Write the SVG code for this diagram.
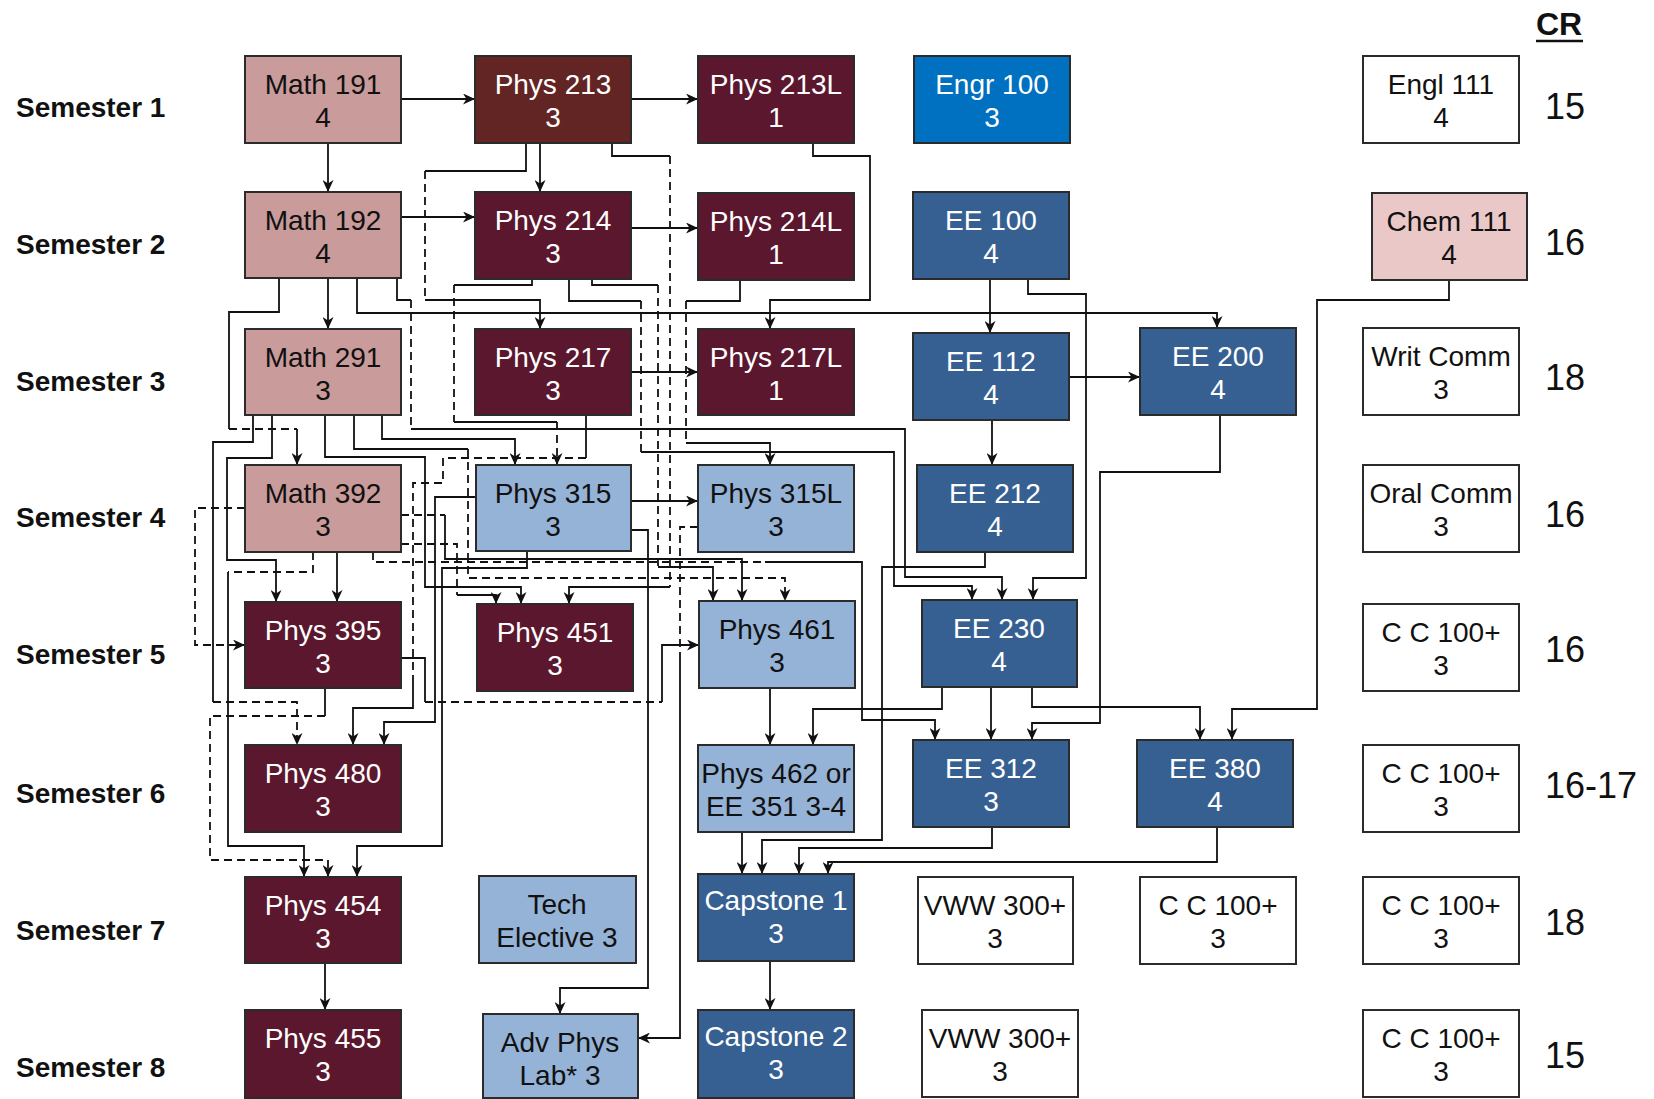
<svg xmlns="http://www.w3.org/2000/svg" width="1654" height="1099" viewBox="0 0 1654 1099">
<style>
.bx{stroke:#2b2b2b;stroke-width:2}
.ma{fill:#C99B9B}.br{fill:#632523}.mr{fill:#5B172D}.eg{fill:#0070C0}.ee{fill:#376092}.lb{fill:#95B3D7}.ch{fill:#EBC8C8}.wh{fill:#FFFFFF}
text{font-family:"Liberation Sans",Arial,sans-serif}
.t{font-size:28px;text-anchor:middle}
.tw{fill:#FFFFFF}.tk{fill:#111111}
.sem{font-size:28px;font-weight:bold;fill:#111}
.cr{font-size:36px;fill:#111}
.s{fill:none;stroke:#111;stroke-width:1.8}
.d{fill:none;stroke:#111;stroke-width:1.8;stroke-dasharray:8 5}
</style>
<defs>
<marker id="a" viewBox="0 0 12 11" refX="12" refY="5.5" markerWidth="12" markerHeight="11" markerUnits="userSpaceOnUse" orient="auto"><path d="M0,0 L12,5.5 L0,11 L3.5,5.5 z" fill="#111"/></marker>
</defs>
<rect x="0" y="0" width="1654" height="1099" fill="#FFFFFF"/>

<g id="labels">
<text class="sem" x="16" y="117">Semester 1</text>
<text class="sem" x="16" y="254">Semester 2</text>
<text class="sem" x="16" y="391">Semester 3</text>
<text class="sem" x="16" y="527">Semester 4</text>
<text class="sem" x="16" y="664">Semester 5</text>
<text class="sem" x="16" y="803">Semester 6</text>
<text class="sem" x="16" y="940">Semester 7</text>
<text class="sem" x="16" y="1077">Semester 8</text>
<text x="1536" y="35" style="font-size:32px;font-weight:bold;fill:#111">CR</text>
<line x1="1536" y1="41" x2="1583" y2="41" stroke="#111" stroke-width="2.5"/>
<text class="cr" x="1545" y="119">15</text>
<text class="cr" x="1545" y="255">16</text>
<text class="cr" x="1545" y="390">18</text>
<text class="cr" x="1545" y="527">16</text>
<text class="cr" x="1545" y="662">16</text>
<text class="cr" x="1545" y="798">16-17</text>
<text class="cr" x="1545" y="935">18</text>
<text class="cr" x="1545" y="1068">15</text>
</g>

<g id="connectors">
<path class="s" d="M401,99 H475" marker-end="url(#a)"/>
<path class="s" d="M631,99 H698" marker-end="url(#a)"/>
<path class="s" d="M328,143 V192" marker-end="url(#a)"/>
<path class="s" d="M540,143 V192" marker-end="url(#a)"/>
<path class="s" d="M526,143 V171 H425"/>
<path class="d" d="M425,171 V300"/>
<path class="s" d="M425,300 H540 V329" marker-end="url(#a)"/>
<path class="s" d="M612,143 V156 H670"/>
<path class="d" d="M670,156 V587"/>
<path class="s" d="M670,587 H569 V604" marker-end="url(#a)"/>
<path class="s" d="M401,217 H475" marker-end="url(#a)"/>
<path class="s" d="M631,228 H698" marker-end="url(#a)"/>
<path class="s" d="M328,278 V329" marker-end="url(#a)"/>
<path class="s" d="M357,278 V313 H1217 V328" marker-end="url(#a)"/>
<path class="s" d="M279,278 V312 H229 V429"/>
<path class="d" d="M229,429 H297"/>
<path class="s" d="M297,429 V465" marker-end="url(#a)"/>
<path class="s" d="M397,278 V300 H411"/>
<path class="d" d="M411,300 V429"/>
<path class="s" d="M411,429 H905 V577 H1002 V600" marker-end="url(#a)"/>
<path class="s" d="M532,279 V285 H454"/>
<path class="d" d="M454,285 V422"/>
<path class="s" d="M454,422 H557"/>
<path class="d" d="M557,422 V465" marker-end="url(#a)"/>
<path class="s" d="M569,279 V301 H641"/>
<path class="d" d="M641,301 V452"/>
<path class="s" d="M641,452 H894 V586 H972 V600" marker-end="url(#a)"/>
<path class="s" d="M592,279 V285 H658"/>
<path class="d" d="M658,285 V567"/>
<path class="s" d="M658,567 H713 V601" marker-end="url(#a)"/>
<path class="s" d="M740,280 V301 H686"/>
<path class="d" d="M686,301 V443"/>
<path class="s" d="M686,443 H770 V465" marker-end="url(#a)"/>
<path class="s" d="M813,143 V156 H870 V300 H770 V329" marker-end="url(#a)"/>
<path class="s" d="M631,372 H698" marker-end="url(#a)"/>
<path class="s" d="M990,279 V333" marker-end="url(#a)"/>
<path class="s" d="M1069,377 H1140" marker-end="url(#a)"/>
<path class="s" d="M1028,279 V294 H1086 V578 H1033 V600" marker-end="url(#a)"/>
<path class="s" d="M992,420 V465" marker-end="url(#a)"/>
<path class="s" d="M382,415 V439 H515 V465" marker-end="url(#a)"/>
<path class="s" d="M354,415 V449 H468"/>
<path class="d" d="M468,449 V578 H785 V601" marker-end="url(#a)"/>
<path class="s" d="M325,415 V457 H425 V587 H521 V604" marker-end="url(#a)"/>
<path class="s" d="M272,415 V458 H227 V560 H276 V602" marker-end="url(#a)"/>
<path class="s" d="M253,415 V442 H213 V702"/>
<path class="d" d="M213,702 H297 V745" marker-end="url(#a)"/>
<path class="s" d="M586,415 V458"/>
<path class="d" d="M586,458 H443 V483 H413 V680"/>
<path class="s" d="M413,680 V708 H353 V745" marker-end="url(#a)"/>
<path class="d" d="M245,508 H195 V645 H245" marker-end="url(#a)"/>
<path class="s" d="M337,552 V602" marker-end="url(#a)"/>
<path class="d" d="M313,552 V572 H228"/>
<path class="s" d="M228,572 V846 H304 V877" marker-end="url(#a)"/>
<path class="d" d="M373,552 V562 H765"/>
<path class="s" d="M765,562 H862 V720 H935 V740" marker-end="url(#a)"/>
<path class="d" d="M401,515 H445"/>
<path class="s" d="M445,515 V559 H742 V601" marker-end="url(#a)"/>
<path class="s" d="M527,551 V568 H442 V846 H357 V877" marker-end="url(#a)"/>
<path class="d" d="M401,544 H457 V595"/>
<path class="s" d="M457,595 H496 V604" marker-end="url(#a)"/>
<path class="s" d="M631,501 H698" marker-end="url(#a)"/>
<path class="s" d="M476,497 H435 V722 H384 V745" marker-end="url(#a)"/>
<path class="s" d="M631,530 H648 V988 H560 V1014" marker-end="url(#a)"/>
<path class="d" d="M698,527 H680 V660"/>
<path class="s" d="M680,660 V1038 H638" marker-end="url(#a)"/>
<path class="s" d="M401,658 H425 V702"/>
<path class="d" d="M425,702 H662"/>
<path class="s" d="M662,702 V645 H699" marker-end="url(#a)"/>
<path class="s" d="M325,688 V716"/>
<path class="d" d="M325,716 H210 V860 H328 V877" marker-end="url(#a)"/>
<path class="s" d="M325,963 V1010" marker-end="url(#a)"/>
<path class="s" d="M770,688 V745" marker-end="url(#a)"/>
<path class="s" d="M942,687 V709 H813 V745" marker-end="url(#a)"/>
<path class="s" d="M991,687 V740" marker-end="url(#a)"/>
<path class="s" d="M1032,687 V707 H1200 V740" marker-end="url(#a)"/>
<path class="s" d="M1220,415 V472 H1100 V723 H1032 V740" marker-end="url(#a)"/>
<path class="s" d="M1449,280 V300 H1317 V709 H1232 V740" marker-end="url(#a)"/>
<path class="s" d="M985,552 V567 H882 V840 H762 V874" marker-end="url(#a)"/>
<path class="s" d="M742,832 V874" marker-end="url(#a)"/>
<path class="s" d="M992,827 V848 H799 V874" marker-end="url(#a)"/>
<path class="s" d="M1217,827 V862 H828 V874" marker-end="url(#a)"/>
<path class="s" d="M770,961 V1010" marker-end="url(#a)"/>
</g>

<g id="math191"><rect class="bx ma" x="245" y="56" width="156" height="87"/><text class="t tk" x="323" y="94">Math 191</text><text class="t tk" x="323" y="127">4</text></g>
<g id="math192"><rect class="bx ma" x="245" y="192" width="156" height="86"/><text class="t tk" x="323" y="230">Math 192</text><text class="t tk" x="323" y="263">4</text></g>
<g id="math291"><rect class="bx ma" x="245" y="329" width="156" height="86"/><text class="t tk" x="323" y="367">Math 291</text><text class="t tk" x="323" y="400">3</text></g>
<g id="math392"><rect class="bx ma" x="245" y="465" width="156" height="87"/><text class="t tk" x="323" y="503">Math 392</text><text class="t tk" x="323" y="536">3</text></g>
<g id="phys395"><rect class="bx mr" x="245" y="602" width="156" height="86"/><text class="t tw" x="323" y="640">Phys 395</text><text class="t tw" x="323" y="673">3</text></g>
<g id="phys480"><rect class="bx mr" x="245" y="745" width="156" height="87"/><text class="t tw" x="323" y="783">Phys 480</text><text class="t tw" x="323" y="816">3</text></g>
<g id="phys454"><rect class="bx mr" x="245" y="877" width="156" height="86"/><text class="t tw" x="323" y="915">Phys 454</text><text class="t tw" x="323" y="948">3</text></g>
<g id="phys455"><rect class="bx mr" x="245" y="1010" width="156" height="88"/><text class="t tw" x="323" y="1048">Phys 455</text><text class="t tw" x="323" y="1081">3</text></g>

<g id="phys213"><rect class="bx br" x="475" y="56" width="156" height="87"/><text class="t tw" x="553" y="94">Phys 213</text><text class="t tw" x="553" y="127">3</text></g>
<g id="phys214"><rect class="bx mr" x="475" y="192" width="156" height="87"/><text class="t tw" x="553" y="230">Phys 214</text><text class="t tw" x="553" y="263">3</text></g>
<g id="phys217"><rect class="bx mr" x="475" y="329" width="156" height="86"/><text class="t tw" x="553" y="367">Phys 217</text><text class="t tw" x="553" y="400">3</text></g>
<g id="phys315"><rect class="bx lb" x="476" y="465" width="155" height="86"/><text class="t tk" x="553" y="503">Phys 315</text><text class="t tk" x="553" y="536">3</text></g>
<g id="phys451"><rect class="bx mr" x="477" y="604" width="156" height="87"/><text class="t tw" x="555" y="642">Phys 451</text><text class="t tw" x="555" y="675">3</text></g>
<g id="techelective"><rect class="bx lb" x="479" y="876" width="157" height="87"/><text class="t tk" x="557" y="914">Tech</text><text class="t tk" x="557" y="947">Elective 3</text></g>
<g id="advphyslab"><rect class="bx lb" x="483" y="1014" width="155" height="84"/><text class="t tk" x="560" y="1052">Adv Phys</text><text class="t tk" x="560" y="1085">Lab* 3</text></g>

<g id="phys213l"><rect class="bx mr" x="698" y="56" width="156" height="87"/><text class="t tw" x="776" y="94">Phys 213L</text><text class="t tw" x="776" y="127">1</text></g>
<g id="phys214l"><rect class="bx mr" x="698" y="193" width="156" height="87"/><text class="t tw" x="776" y="231">Phys 214L</text><text class="t tw" x="776" y="264">1</text></g>
<g id="phys217l"><rect class="bx mr" x="698" y="329" width="156" height="86"/><text class="t tw" x="776" y="367">Phys 217L</text><text class="t tw" x="776" y="400">1</text></g>
<g id="phys315l"><rect class="bx lb" x="698" y="465" width="156" height="87"/><text class="t tk" x="776" y="503">Phys 315L</text><text class="t tk" x="776" y="536">3</text></g>
<g id="phys461"><rect class="bx lb" x="699" y="601" width="156" height="87"/><text class="t tk" x="777" y="639">Phys 461</text><text class="t tk" x="777" y="672">3</text></g>
<g id="phys462"><rect class="bx lb" x="698" y="745" width="156" height="87"/><text class="t tk" x="776" y="783">Phys 462 or</text><text class="t tk" x="776" y="816">EE 351 3-4</text></g>
<g id="capstone1"><rect class="bx ee" x="698" y="874" width="156" height="87"/><text class="t tw" x="776" y="910">Capstone 1</text><text class="t tw" x="776" y="943">3</text></g>
<g id="capstone2"><rect class="bx ee" x="698" y="1010" width="156" height="88"/><text class="t tw" x="776" y="1046">Capstone 2</text><text class="t tw" x="776" y="1079">3</text></g>

<g id="engr100"><rect class="bx eg" x="914" y="56" width="156" height="87"/><text class="t tw" x="992" y="94">Engr 100</text><text class="t tw" x="992" y="127">3</text></g>
<g id="ee100"><rect class="bx ee" x="913" y="192" width="156" height="87"/><text class="t tw" x="991" y="230">EE 100</text><text class="t tw" x="991" y="263">4</text></g>
<g id="ee112"><rect class="bx ee" x="913" y="333" width="156" height="87"/><text class="t tw" x="991" y="371">EE 112</text><text class="t tw" x="991" y="404">4</text></g>
<g id="ee212"><rect class="bx ee" x="917" y="465" width="156" height="87"/><text class="t tw" x="995" y="503">EE 212</text><text class="t tw" x="995" y="536">4</text></g>
<g id="ee230"><rect class="bx ee" x="922" y="600" width="155" height="87"/><text class="t tw" x="999" y="638">EE 230</text><text class="t tw" x="999" y="671">4</text></g>
<g id="ee312"><rect class="bx ee" x="913" y="740" width="156" height="87"/><text class="t tw" x="991" y="778">EE 312</text><text class="t tw" x="991" y="811">3</text></g>
<g id="vww1"><rect class="bx wh" x="918" y="877" width="155" height="87"/><text class="t tk" x="995" y="915">VWW 300+</text><text class="t tk" x="995" y="948">3</text></g>
<g id="vww2"><rect class="bx wh" x="922" y="1010" width="156" height="87"/><text class="t tk" x="1000" y="1048">VWW 300+</text><text class="t tk" x="1000" y="1081">3</text></g>

<g id="ee200"><rect class="bx ee" x="1140" y="328" width="156" height="87"/><text class="t tw" x="1218" y="366">EE 200</text><text class="t tw" x="1218" y="399">4</text></g>
<g id="ee380"><rect class="bx ee" x="1137" y="740" width="156" height="87"/><text class="t tw" x="1215" y="778">EE 380</text><text class="t tw" x="1215" y="811">4</text></g>
<g id="cc7a"><rect class="bx wh" x="1140" y="877" width="156" height="87"/><text class="t tk" x="1218" y="915">C C 100+</text><text class="t tk" x="1218" y="948">3</text></g>

<g id="engl111"><rect class="bx wh" x="1363" y="56" width="156" height="87"/><text class="t tk" x="1441" y="94">Engl 111</text><text class="t tk" x="1441" y="127">4</text></g>
<g id="chem111"><rect class="bx ch" x="1372" y="193" width="155" height="87"/><text class="t tk" x="1449" y="231">Chem 111</text><text class="t tk" x="1449" y="264">4</text></g>
<g id="writcomm"><rect class="bx wh" x="1363" y="328" width="156" height="87"/><text class="t tk" x="1441" y="366">Writ Comm</text><text class="t tk" x="1441" y="399">3</text></g>
<g id="oralcomm"><rect class="bx wh" x="1363" y="465" width="156" height="87"/><text class="t tk" x="1441" y="503">Oral Comm</text><text class="t tk" x="1441" y="536">3</text></g>
<g id="cc5"><rect class="bx wh" x="1363" y="604" width="156" height="87"/><text class="t tk" x="1441" y="642">C C 100+</text><text class="t tk" x="1441" y="675">3</text></g>
<g id="cc6"><rect class="bx wh" x="1363" y="745" width="156" height="87"/><text class="t tk" x="1441" y="783">C C 100+</text><text class="t tk" x="1441" y="816">3</text></g>
<g id="cc7"><rect class="bx wh" x="1363" y="877" width="156" height="87"/><text class="t tk" x="1441" y="915">C C 100+</text><text class="t tk" x="1441" y="948">3</text></g>
<g id="cc8"><rect class="bx wh" x="1363" y="1010" width="156" height="87"/><text class="t tk" x="1441" y="1048">C C 100+</text><text class="t tk" x="1441" y="1081">3</text></g>
</svg>
